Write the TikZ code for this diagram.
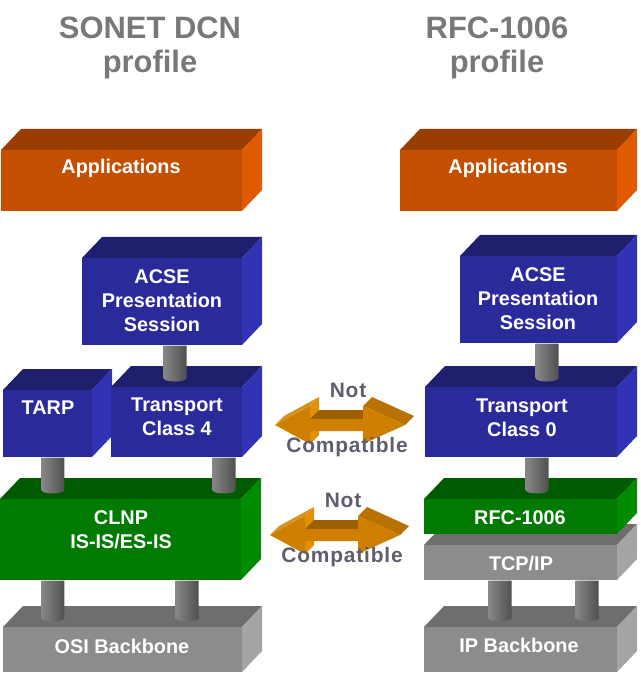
\documentclass[tikz,border=0pt]{standalone}
\usepackage{fontspec}
\setmainfont{Liberation Sans}
\usetikzlibrary{calc}
\definecolor{orgFront}{HTML}{C44F00}
\definecolor{orgTop}{HTML}{9A3D00}
\definecolor{orgSide}{HTML}{E05A00}
\definecolor{bluFront}{HTML}{2A2A9A}
\definecolor{bluTop}{HTML}{1F1F6E}
\definecolor{bluSide}{HTML}{3232B4}
\definecolor{grnFront}{HTML}{007A00}
\definecolor{grnTop}{HTML}{005A00}
\definecolor{grnSide}{HTML}{008C00}
\definecolor{gryFront}{HTML}{8C8C8C}
\definecolor{gryTop}{HTML}{6E6E6E}
\definecolor{grySide}{HTML}{A4A4A4}
\definecolor{pipeL}{HTML}{878787}
\definecolor{pipeR}{HTML}{505050}
\definecolor{arrFront}{HTML}{CF7F00}
\definecolor{arrTop}{HTML}{9B5E00}
\definecolor{arrBack}{HTML}{E39100}
\definecolor{arrSlant}{HTML}{B97200}
\definecolor{titleGray}{HTML}{787878}
\definecolor{noteGray}{HTML}{5E5E6C}

% 3D slab: name, colour, front top-left x,y, front bottom-right x,y
\newcommand{\slab}[6]{%
  \fill[#2Top] (#3,#4) -- (#3+20,#4-21) -- (#5+20,#4-21) -- (#5,#4) -- cycle;
  \fill[#2Side] (#5,#4) -- (#5+20,#4-21) -- (#5+20,#6-21) -- (#5,#6) -- cycle;
  \node[face,fill=#2Front,minimum width={(#5-#3)*0.02cm},minimum height={(#6-#4)*0.02cm}] (#1) at (#3,#4) {};
}
% pipe: upper node, lower node, x centre
\newcommand{\pipe}[3]{%
  \path (#1.south -| #3,0) coordinate (pipetop) (#2.north -| #3,0) coordinate (pipebot);
  \shade[pipe] ([xshift=-0.23cm]pipetop) -- ([xshift=-0.23cm,yshift=0.18cm]pipebot)
    arc[start angle=180,end angle=360,x radius=0.23cm,y radius=0.07cm] -- ([xshift=0.23cm]pipetop) -- cycle;
}
% block arrow with its two labels
\newcommand{\notcompat}[2]{%
  \begin{scope}[shift={#2}]
    \fill[arrFront!85!white] (275,425) -- (310,406) -- (319,397) -- (284,416) -- cycle;
    \fill[arrBack] (310,406) -- (310,444) -- (319,435) -- (319,397) -- cycle;
    \fill[arrTop] (310,419) -- (363,419) -- (372,410) -- (319,410) -- cycle;
    \fill[arrSlant] (363,406) -- (405,425) -- (414,416) -- (372,397) -- cycle;
    \fill[arrFront] (275,425) -- (310,406) -- (310,419) -- (363,419) -- (363,406) -- (405,425)
      -- (363,444) -- (363,431) -- (310,431) -- (310,444) -- cycle;
    \node[note] (#1not) at (348,390) {Not};
    \node[note] (#1cmp) at (347,447) {Compatible};
  \end{scope}
}

\begin{document}
\begin{tikzpicture}[x=0.02cm,y=-0.02cm,
  face/.style={inner sep=0,anchor=north west},
  lbl/.style={text=white,font=\bfseries\fontsize{11.3}{13.6}\selectfont,align=center,inner sep=0},
  ttl/.style={text=titleGray,font=\bfseries\fontsize{17.6}{19.3}\selectfont,align=center,inner sep=0},
  note/.style={text=noteGray,font=\bfseries\fontsize{11.9}{14}\selectfont\addfontfeature{LetterSpace=4},inner sep=0},
  pipe/.style={left color=pipeL,right color=pipeR}]
\useasboundingbox (0,0) rectangle (640,675);

\node[ttl] (sonet) at (150,48) {SONET DCN\\profile};
\node[ttl] (rfcprof) at (497,48) {RFC-1006\\profile};

% SONET DCN stack
\slab{appL}{org}{1}{150}{242}{211}
\slab{acseL}{blu}{82}{258}{242}{345}
\slab{tarp}{blu}{3}{390}{92}{457}
\slab{tpf}{blu}{111}{387}{242}{457}
\slab{clnp}{grn}{0}{499}{241}{580}
\slab{osi}{gry}{3}{627}{242}{672}

% RFC-1006 stack
\slab{appR}{org}{400}{150}{617}{211}
\slab{acseR}{blu}{460}{256}{617}{343}
\slab{tpz}{blu}{425}{387}{617}{457}
\slab{tcp}{gry}{424}{545}{617}{580}
\slab{rfc}{grn}{424}{499}{617}{534}
\slab{ipb}{gry}{424}{627}{617}{672}

\pipe{acseL}{tpf}{175}
\pipe{tarp}{clnp}{53}
\pipe{tpf}{clnp}{224}
\pipe{clnp}{osi}{53}
\pipe{clnp}{osi}{187}
\pipe{acseR}{tpz}{547}
\pipe{tpz}{rfc}{537}
\pipe{tcp}{ipb}{500}
\pipe{tcp}{ipb}{587}

\node[lbl] (appLtxt) at (121,168) {Applications};
\node[lbl] (acseLtxt) at (162,301) {ACSE\\Presentation\\Session};
\node[lbl] (tarptxt) at (48,408) {TARP};
\node[lbl] (tpftxt) at (177,417) {Transport\\Class 4};
\node[lbl] (clnptxt) at (121,530) {CLNP\\IS-IS/ES-IS};
\node[lbl] (ositxt) at (122,646) {OSI Backbone};

\node[lbl] (appRtxt) at (508,168) {Applications};
\node[lbl] (acseRtxt) at (538,299) {ACSE\\Presentation\\Session};
\node[lbl] (tpztxt) at (522,418) {Transport\\Class 0};
\node[lbl] (rfctxt) at (520,518) {RFC-1006};
\node[lbl] (tcptxt) at (521,563) {TCP/IP};
\node[lbl] (ipbtxt) at (519,645) {IP Backbone};

\notcompat{up}{(0,0)}
\notcompat{lo}{(-5,110)}
\end{tikzpicture}
\end{document}
